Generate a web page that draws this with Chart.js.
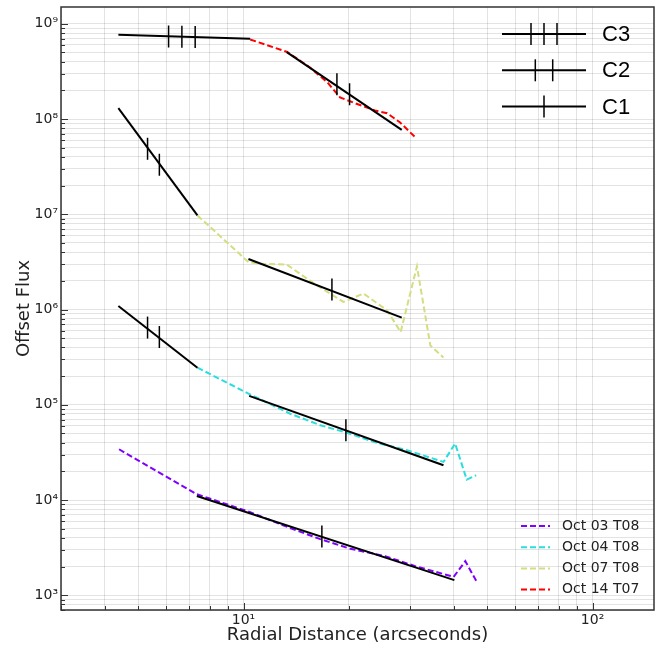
<!DOCTYPE html>
<html>
<head>
<meta charset="utf-8">
<script src="https://cdn.jsdelivr.net/npm/chart.js@4.4.1/dist/chart.umd.min.js"></script>
<style>
  html, body { margin: 0; padding: 0; background: #fff; }
</style>
</head>
<body>
<canvas id="fluxChart" width="660" height="648"></canvas>
<script>
// radial distance (arcsec) vs offset flux
const oct03X = [4.40, 7.35, 10.45, 13.17, 16.59, 20.22, 25.47, 31.05, 40.0, 43.2, 46.7];
const oct03Y = [3.41e4, 1.15e4, 7.45e3, 5.31e3, 3.88e3, 3.08e3, 2.57e3, 2.02e3, 1.56e3, 2.28e3, 1.36e3];

const oct04X = [7.38, 10.33, 13.61, 16.59, 19.79, 23.85, 29.4, 37.4, 40.4, 43.6, 46.4];
const oct04Y = [2.45e5, 1.31e5, 8.05e4, 6.10e4, 5.08e4, 4.03e4, 3.33e4, 2.51e4, 3.92e4, 1.64e4, 1.82e4];

const oct07X = [7.38, 10.33, 11.16, 13.3, 16.2, 19.34, 22.07, 25.76, 28.2, 31.4, 34.3, 37.4];
const oct07Y = [9.73e6, 3.15e6, 3.03e6, 2.96e6, 1.80e6, 1.20e6, 1.47e6, 9.83e5, 5.81e5, 2.84e6, 4.2e5, 3.13e5];

const oct14X = [10.45, 13.34, 15.5, 17.4, 18.9, 20.9, 23.8, 25.8, 28.1, 31.3];
const oct14Y = [6.84e8, 5.06e8, 3.48e8, 2.42e8, 1.69e8, 1.46e8, 1.23e8, 1.15e8, 9.2e7, 6.25e7];

// power-law fits (black), each is a pair of end points
const fit14aX = [4.38, 10.45],  fit14aY = [7.67e8, 6.96e8];
const fit14bX = [13.3, 28.4],   fit14bY = [5.04e8, 7.7e7];
const fit07aX = [4.38, 7.38],   fit07aY = [1.30e8, 9.73e6];
const fit07bX = [10.33, 28.4],  fit07bY = [3.39e6, 8.22e5];
const fit04aX = [4.38, 7.38],   fit04aY = [1.09e6, 2.45e5];
const fit04bX = [10.38, 37.4],  fit04bY = [1.24e5, 2.32e4];
const fit03X  = [7.35, 40.2],   fit03Y  = [1.10e4, 1.44e3];

// vertical tick marks on the fits
const markX = [6.10, 6.66, 7.27, 18.52, 20.13, 5.31, 5.74, 17.92, 5.31, 5.74, 19.65, 16.77];
const markY = [7.35e8, 7.3e8, 7.25e8, 2.32e8, 1.82e8, 4.87e7, 3.31e7, 1.62e6, 6.46e5, 5.14e5, 5.40e4, 4.14e3];

const seriesNames = ['Oct 03 T08', 'Oct 04 T08', 'Oct 07 T08', 'Oct 14 T07'];
const seriesColors = ['#8000ff', '#2bdddd', '#d4dd80', '#ff0000'];
const fitNames = ['C3', 'C2', 'C1'];

const xRange = [3, 150];
const yRange = [700, 1.5e9];

const sup = { '0': '⁰', '1': '¹', '2': '²', '3': '³', '4': '⁴', '5': '⁵', '6': '⁶', '7': '⁷', '8': '⁸', '9': '⁹', '-': '⁻' };

function pts(xs, ys) {
    return xs.map((x, i) => ({ x: x, y: ys[i] }));
}

function logTicks(scale) {
    const out = [];
    const lo = scale.min, hi = scale.max;
    for (let e = Math.floor(Math.log10(lo)); e <= Math.ceil(Math.log10(hi)); e++) {
        for (let m = 1; m <= 9; m++) {
            const v = m * Math.pow(10, e);
            if (v >= lo && v <= hi) out.push({ value: v, major: m === 1 });
        }
    }
    scale.ticks = out;
}

function powLabel(value) {
    const e = Math.round(Math.log10(value));
    if (Math.abs(value - Math.pow(10, e)) > 1e-6 * value) return '';
    return '10' + String(e).split('').map(c => sup[c]).join('');
}

// no label overhang, the plot box is set by layout padding alone
function noOverhang(s) {
    s.paddingLeft = 0; s.paddingRight = 0; s.paddingTop = 0; s.paddingBottom = 0;
}

const datasets = [];
const fits = [[fit14aX, fit14aY], [fit14bX, fit14bY], [fit07aX, fit07aY], [fit07bX, fit07bY],
              [fit04aX, fit04aY], [fit04bX, fit04bY], [fit03X, fit03Y]];
fits.forEach(f => {
    datasets.push({
        data: pts(f[0], f[1]), borderColor: '#000', borderWidth: 2,
        pointRadius: 0, order: 1
    });
});
datasets.push({
    data: pts(markX, markY), showLine: false, pointStyle: 'line', rotation: 90,
    pointRadius: 11, pointHoverRadius: 11, borderColor: '#000', pointBorderWidth: 1.5, order: 0
});
[[oct03X, oct03Y], [oct04X, oct04Y], [oct07X, oct07Y], [oct14X, oct14Y]].forEach((s, i) => {
    datasets.push({
        label: seriesNames[i], data: pts(s[0], s[1]), borderColor: seriesColors[i],
        borderWidth: 2, borderDash: [6, 3], pointRadius: 0, order: 2
    });
});

// frame, inward ticks and the two legends
const frameAndLegends = {
    id: 'frameAndLegends',
    afterDraw(chart) {
        const ctx = chart.ctx;
        const a = chart.chartArea;
        ctx.save();
        ctx.strokeStyle = '#333';
        ctx.lineWidth = 1;
        [chart.scales.x, chart.scales.y].forEach(sc => {
            sc.ticks.forEach(t => {
                const len = t.major ? 7 : 4;
                const p = Math.round(sc.getPixelForValue(t.value)) + 0.5;
                ctx.beginPath();
                if (sc.axis === 'x') { ctx.moveTo(p, a.bottom); ctx.lineTo(p, a.bottom - len); }
                else { ctx.moveTo(a.left, p); ctx.lineTo(a.left + len, p); }
                ctx.stroke();
            });
        });
        ctx.lineWidth = 1.5;
        ctx.strokeRect(a.left, a.top, a.right - a.left, a.bottom - a.top);

        // fit legend, top right
        const tickSets = [[-13, 0, 13], [-8.7, 8.7], [0]];
        ctx.strokeStyle = '#000';
        ctx.fillStyle = '#000';
        ctx.font = '22px "Liberation Sans"';
        ctx.textBaseline = 'middle';
        fitNames.forEach((name, i) => {
            const y = a.top + 27 + i * 36.3;
            const x0 = a.right - 152, x1 = a.right - 68, xc = (x0 + x1) / 2;
            ctx.lineWidth = 2;
            ctx.beginPath(); ctx.moveTo(x0, y); ctx.lineTo(x1, y); ctx.stroke();
            ctx.lineWidth = 1.5;
            tickSets[i].forEach(d => {
                ctx.beginPath(); ctx.moveTo(xc + d, y - 11); ctx.lineTo(xc + d, y + 11); ctx.stroke();
            });
            ctx.fillText(name, a.right - 52, y + 1);
        });

        // observation legend, bottom right
        ctx.font = '14px "DejaVu Sans"';
        seriesNames.forEach((name, i) => {
            const y = a.bottom - 84 + i * 21.2;
            ctx.strokeStyle = seriesColors[i];
            ctx.lineWidth = 2;
            ctx.setLineDash([6, 3]);
            ctx.beginPath(); ctx.moveTo(a.right - 133, y); ctx.lineTo(a.right - 104, y); ctx.stroke();
            ctx.setLineDash([]);
            ctx.fillStyle = '#222';
            ctx.fillText(name, a.right - 92, y);
        });
        ctx.restore();
    }
};

new Chart(document.getElementById('fluxChart'), {
    type: 'line',
    data: { datasets: datasets },
    options: {
        responsive: false,
        animation: false,
        layout: { autoPadding: false, padding: { left: 0, top: 7, right: 6, bottom: 0 } },
        plugins: { legend: { display: false }, tooltip: { enabled: false } },
        elements: { line: { tension: 0 } },
        scales: {
            x: {
                type: 'logarithmic', min: xRange[0], max: xRange[1],
                afterBuildTicks: logTicks,
                afterFit: s => { s.height = 38; noOverhang(s); },
                border: { display: false },
                grid: { color: 'rgba(0,0,0,0.11)', drawTicks: false },
                ticks: {
                    autoSkip: false, maxRotation: 0, padding: 2, color: '#222',
                    font: { family: 'DejaVu Sans', size: 14 },
                    callback: v => powLabel(v)
                },
                title: {
                    display: true, text: 'Radial Distance (arcseconds)', color: '#222',
                    font: { family: 'DejaVu Sans', size: 18 }, padding: { top: 0, bottom: 2 }
                }
            },
            y: {
                type: 'logarithmic', min: yRange[0], max: yRange[1],
                afterBuildTicks: logTicks,
                afterFit: s => { s.width = 61; noOverhang(s); },
                border: { display: false },
                grid: { color: 'rgba(0,0,0,0.11)', drawTicks: false },
                ticks: {
                    autoSkip: false, padding: 3, color: '#222',
                    font: { family: 'DejaVu Sans', size: 14 },
                    callback: v => powLabel(v)
                },
                title: {
                    display: true, text: 'Offset Flux', color: '#222',
                    font: { family: 'DejaVu Sans', size: 18 }, padding: { top: 14, bottom: 0 }
                }
            }
        }
    },
    plugins: [frameAndLegends]
});
</script>
</body>
</html>
